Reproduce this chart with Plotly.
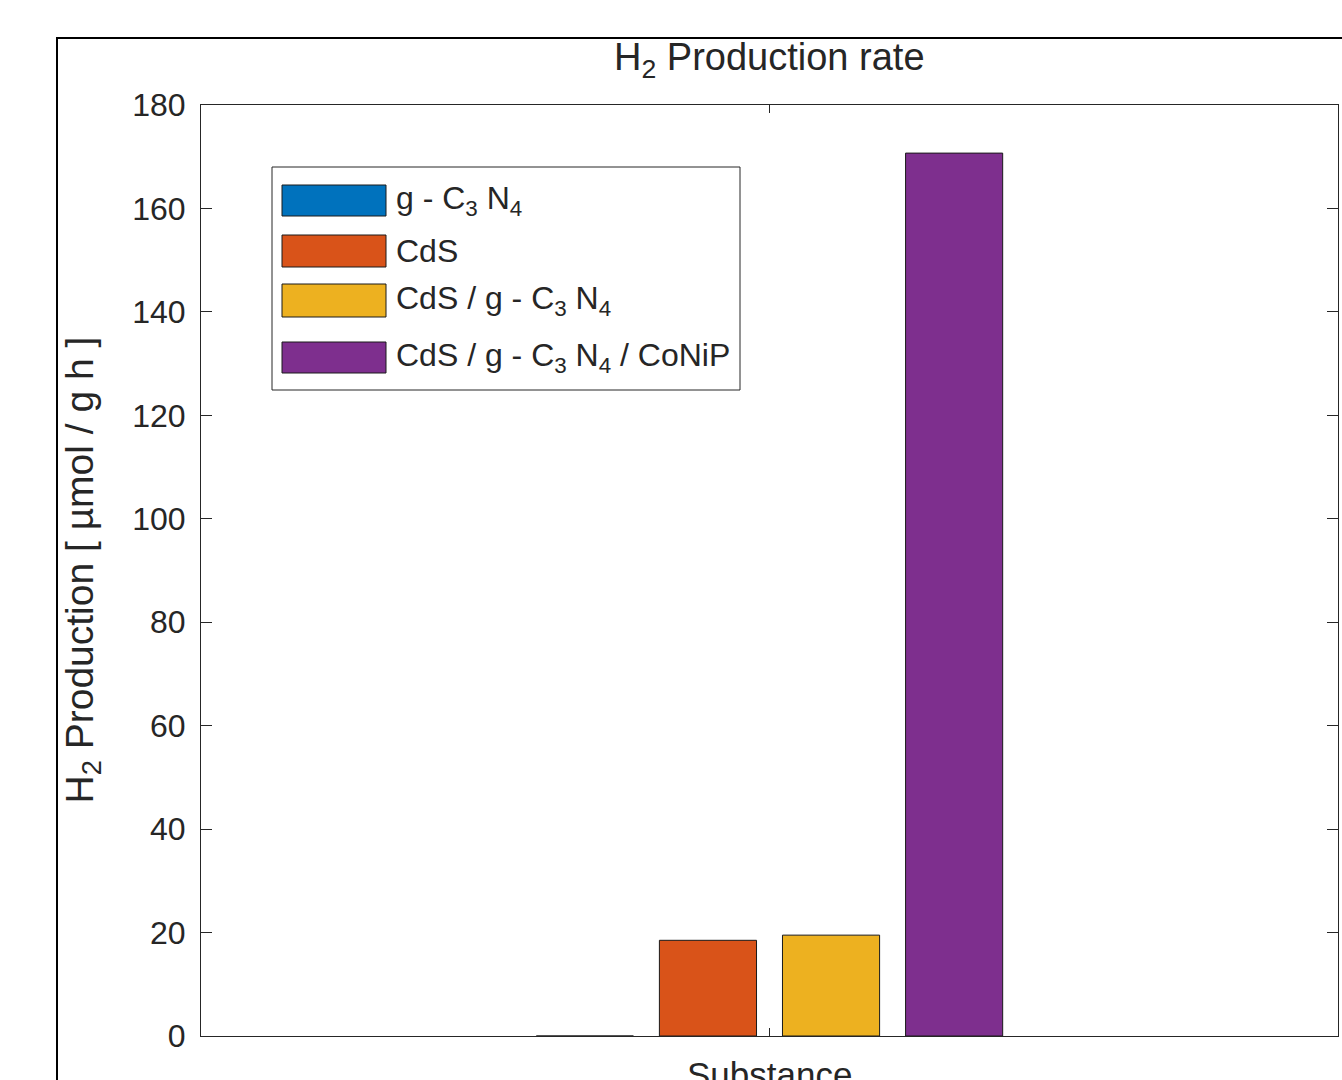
import plotly.graph_objects as go

# ---- data ----
category = [" "]
series_names = [
    "g - C<sub>3</sub> N<sub>4</sub>",
    "CdS",
    "CdS / g - C<sub>3</sub> N<sub>4</sub>",
    "CdS / g - C<sub>3</sub> N<sub>4</sub> / CoNiP",
]
series_values = [0.0, 18.5, 19.5, 170.7]
series_colors = ["#0072BD", "#D95319", "#EDB120", "#7E2F8E"]
y_ticks = [0, 20, 40, 60, 80, 100, 120, 140, 160, 180]

W, H = 1342, 1080
L, R, T, B = 201, 1338, 105, 1036  # plot area in pixels
FONT = "Liberation Sans, Arial, sans-serif"
AX = "#262626"
TXT = "#262626"


def px(x):
    return (x - L) / (R - L)


def py(y):
    return (B - y) / (B - T)


fig = go.Figure()
for name, val, col in zip(series_names, series_values, series_colors):
    fig.add_trace(go.Bar(
        x=category, y=[val], name=name,
        marker=dict(color=col, line=dict(color="#1a1a1a", width=1)),
        showlegend=False,
    ))

shapes = []
annotations = []

# outer figure frame (partially out of view)
shapes.append(dict(type="rect", xref="paper", yref="paper",
                   x0=px(57), x1=px(1400), y0=py(1150), y1=py(38),
                   line=dict(color="black", width=2), layer="below"))

# manual legend (MATLAB style long swatches)
shapes.append(dict(type="rect", xref="paper", yref="paper",
                   x0=px(272), x1=px(740), y0=py(390), y1=py(167),
                   line=dict(color=AX, width=1), fillcolor="white", layer="above"))
row_top = [185, 235, 284, 342]
row_bot = [216, 267, 317, 373]
for name, col, t, b in zip(series_names, series_colors, row_top, row_bot):
    shapes.append(dict(type="rect", xref="paper", yref="paper",
                       x0=px(282), x1=px(386), y0=py(b), y1=py(t),
                       fillcolor=col, line=dict(color="#1a1a1a", width=1), layer="above"))
    annotations.append(dict(xref="paper", yref="paper", x=px(394), y=py((t + b) / 2),
                            xanchor="left", yanchor="middle", showarrow=False,
                            text=name, font=dict(size=32, color=TXT, family=FONT)))

# title
annotations.append(dict(xref="paper", yref="paper", x=0.5, y=py(60),
                        xanchor="center", yanchor="middle", showarrow=False,
                        text="H<sub>2</sub> Production rate",
                        font=dict(size=38, color=TXT, family=FONT)))
# y title
annotations.append(dict(xref="paper", yref="paper", x=px(82), y=0.5,
                        xanchor="center", yanchor="middle", showarrow=False, textangle=-90,
                        text="H<sub>2</sub> Production [ µmol / g h ]",
                        font=dict(size=39, color=TXT, family=FONT)))
# x title
annotations.append(dict(xref="paper", yref="paper", x=0.5, y=py(1053),
                        xanchor="center", yanchor="top", showarrow=False,
                        text="Substance",
                        font=dict(size=35, color=TXT, family=FONT)))

fig.update_layout(
    width=W, height=H,
    margin=dict(l=L, r=W - R, t=T, b=H - B, pad=0),
    paper_bgcolor="white", plot_bgcolor="white",
    barmode="group", bargap=0.567, bargroupgap=0.211,
    shapes=shapes, annotations=annotations,
    font=dict(family=FONT, color=TXT),
)
fig.update_xaxes(
    type="category", showline=True, linecolor=AX, linewidth=1, mirror="ticks",
    ticks="inside", ticklen=8, tickcolor=AX, showgrid=False, zeroline=False,
    showticklabels=False,
)
fig.update_yaxes(
    range=[0, 180], tickvals=y_ticks, ticktext=[str(v) for v in y_ticks],
    showline=True, linecolor=AX, linewidth=1, mirror="ticks",
    ticks="inside", ticklen=11, tickcolor=AX, showgrid=False, zeroline=False,
    ticklabelstandoff=8,
    tickfont=dict(size=32, color=TXT, family=FONT),
)

fig.write_html("out.html")
